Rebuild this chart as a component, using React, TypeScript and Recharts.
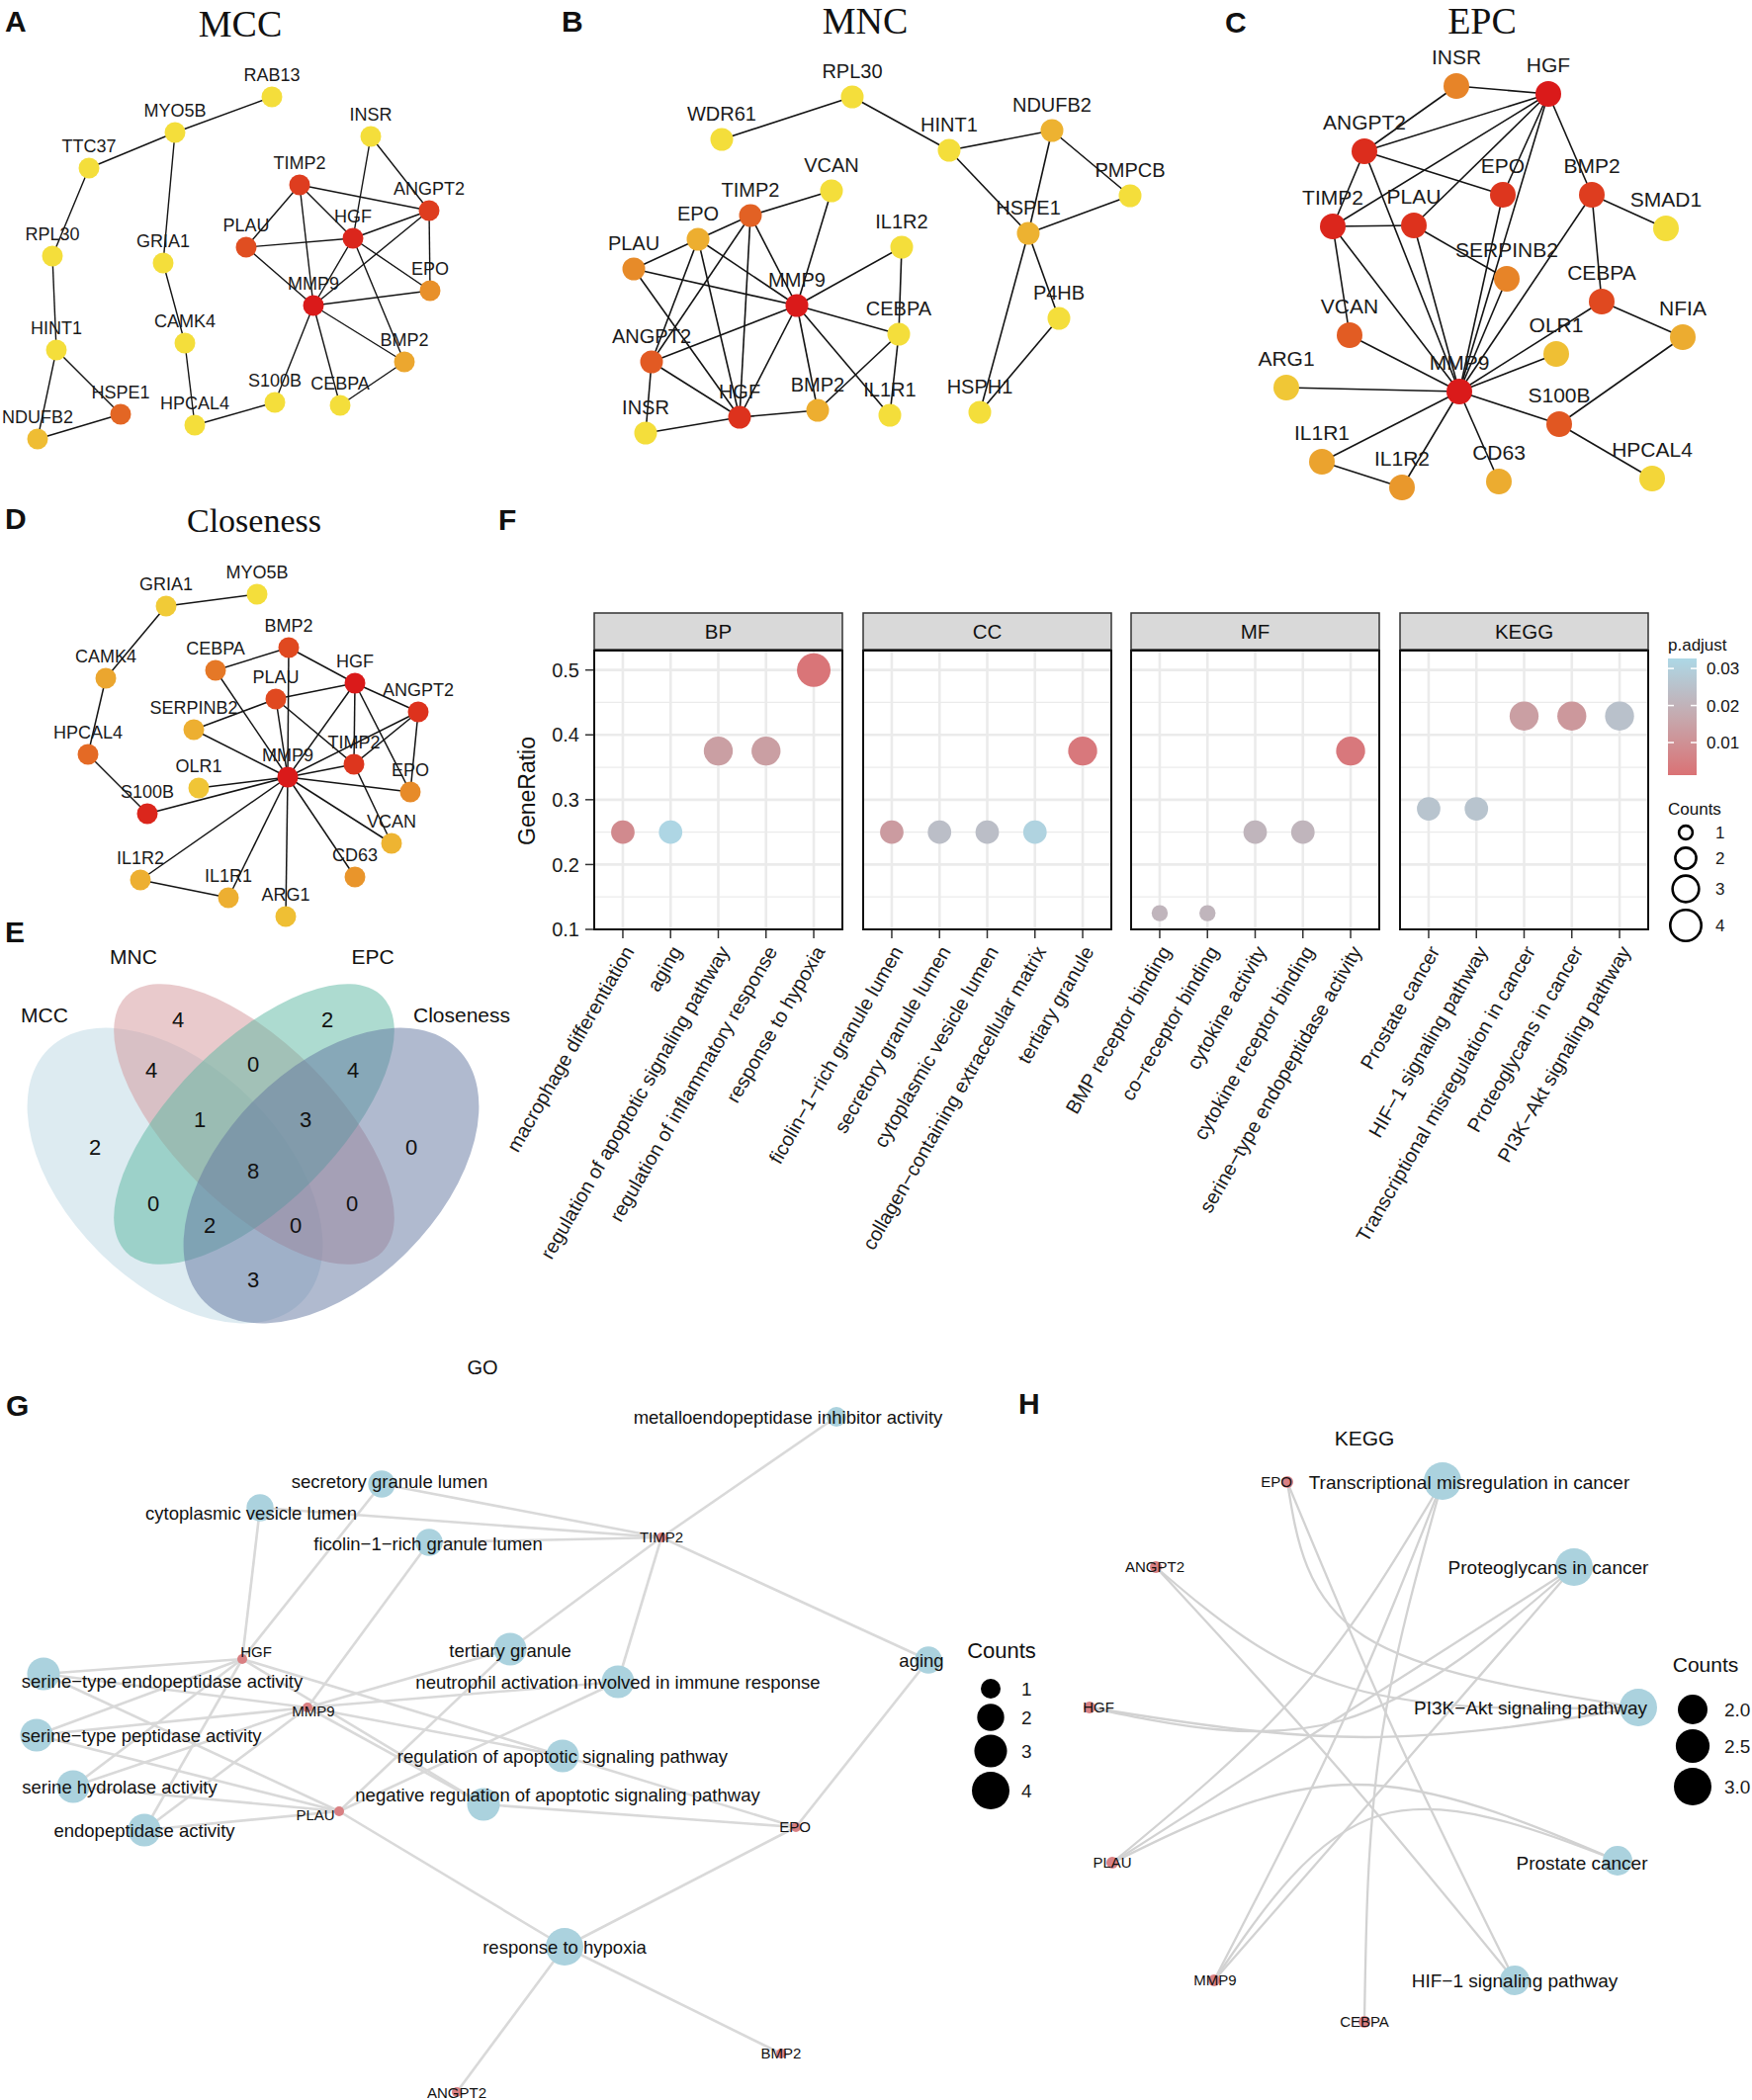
import React from "react";
import { ScatterChart, Scatter, XAxis, YAxis, ZAxis, CartesianGrid } from "recharts";

const SANS = "'Liberation Sans', Arial, Helvetica, sans-serif";
const SERIF = "'Liberation Serif', 'Times New Roman', serif";
const INK = "#1a1a1a";
const ZERO = { top: 0, right: 0, bottom: 0, left: 0 };

// ---------- A: MCC network (x, y; score = node colour rank)
const mccNodes = [
  { id: "RAB13", x: 275, y: 98, score: 0 },
  { id: "MYO5B", x: 177, y: 134, score: 0 },
  { id: "TTC37", x: 90, y: 170, score: 0 },
  { id: "RPL30", x: 53, y: 259, score: 0 },
  { id: "GRIA1", x: 165, y: 266, score: 0 },
  { id: "HINT1", x: 57, y: 354, score: 0 },
  { id: "CAMK4", x: 187, y: 347, score: 0 },
  { id: "HSPE1", x: 122, y: 419, score: 0.68 },
  { id: "NDUFB2", x: 38, y: 444, score: 0.21 },
  { id: "HPCAL4", x: 197, y: 430, score: 0 },
  { id: "S100B", x: 278, y: 407, score: 0 },
  { id: "CEBPA", x: 344, y: 410, score: 0 },
  { id: "BMP2", x: 409, y: 366, score: 0.35 },
  { id: "MMP9", x: 317, y: 309, score: 1 },
  { id: "EPO", x: 435, y: 294, score: 0.5 },
  { id: "HGF", x: 357, y: 241, score: 0.95 },
  { id: "PLAU", x: 249, y: 250, score: 0.78 },
  { id: "TIMP2", x: 303, y: 187, score: 0.85 },
  { id: "ANGPT2", x: 434, y: 213, score: 0.85 },
  { id: "INSR", x: 375, y: 138, score: 0 },
];
const mccEdges = [
  ["RAB13", "MYO5B"], ["MYO5B", "TTC37"], ["MYO5B", "GRIA1"], ["TTC37", "RPL30"], ["RPL30", "HINT1"],
  ["HINT1", "NDUFB2"], ["HINT1", "HSPE1"], ["HSPE1", "NDUFB2"], ["GRIA1", "CAMK4"], ["CAMK4", "HPCAL4"],
  ["HPCAL4", "S100B"], ["S100B", "MMP9"], ["CEBPA", "MMP9"], ["CEBPA", "BMP2"], ["BMP2", "MMP9"],
  ["BMP2", "HGF"], ["MMP9", "EPO"], ["MMP9", "PLAU"], ["MMP9", "TIMP2"], ["MMP9", "HGF"],
  ["MMP9", "ANGPT2"], ["EPO", "ANGPT2"], ["EPO", "HGF"], ["HGF", "PLAU"], ["HGF", "TIMP2"],
  ["HGF", "ANGPT2"], ["HGF", "INSR"], ["INSR", "ANGPT2"], ["TIMP2", "ANGPT2"], ["TIMP2", "PLAU"],
];

// ---------- B: MNC network
const mncNodes = [
  { id: "RPL30", x: 862, y: 98, score: 0 },
  { id: "WDR61", x: 730, y: 141, score: 0 },
  { id: "HINT1", x: 960, y: 152, score: 0 },
  { id: "NDUFB2", x: 1064, y: 132, score: 0.28 },
  { id: "PMPCB", x: 1143, y: 198, score: 0 },
  { id: "HSPE1", x: 1040, y: 236, score: 0.28 },
  { id: "P4HB", x: 1071, y: 322, score: 0 },
  { id: "HSPH1", x: 991, y: 417, score: 0 },
  { id: "VCAN", x: 841, y: 193, score: 0 },
  { id: "TIMP2", x: 759, y: 218, score: 0.7 },
  { id: "EPO", x: 706, y: 242, score: 0.31 },
  { id: "PLAU", x: 641, y: 272, score: 0.52 },
  { id: "IL1R2", x: 912, y: 250, score: 0 },
  { id: "MMP9", x: 806, y: 309, score: 1 },
  { id: "CEBPA", x: 909, y: 338, score: 0 },
  { id: "ANGPT2", x: 659, y: 366, score: 0.73 },
  { id: "INSR", x: 653, y: 438, score: 0 },
  { id: "HGF", x: 748, y: 422, score: 0.9 },
  { id: "BMP2", x: 827, y: 415, score: 0.31 },
  { id: "IL1R1", x: 900, y: 420, score: 0 },
];
const mncEdges = [
  ["WDR61", "RPL30"], ["RPL30", "HINT1"], ["HINT1", "NDUFB2"], ["HINT1", "HSPE1"], ["NDUFB2", "HSPE1"],
  ["NDUFB2", "PMPCB"], ["PMPCB", "HSPE1"], ["HSPE1", "HSPH1"], ["HSPE1", "P4HB"], ["P4HB", "HSPH1"],
  ["VCAN", "TIMP2"], ["VCAN", "MMP9"], ["TIMP2", "EPO"], ["TIMP2", "MMP9"], ["TIMP2", "ANGPT2"],
  ["TIMP2", "HGF"], ["EPO", "PLAU"], ["EPO", "MMP9"], ["EPO", "ANGPT2"], ["EPO", "HGF"],
  ["PLAU", "MMP9"], ["PLAU", "HGF"], ["IL1R2", "MMP9"], ["IL1R2", "CEBPA"], ["CEBPA", "IL1R1"],
  ["MMP9", "CEBPA"], ["MMP9", "ANGPT2"], ["MMP9", "HGF"], ["MMP9", "BMP2"], ["MMP9", "IL1R1"],
  ["CEBPA", "BMP2"], ["ANGPT2", "INSR"], ["ANGPT2", "HGF"], ["INSR", "HGF"], ["HGF", "BMP2"],
];

// ---------- C: EPC network
const epcNodes = [
  { id: "INSR", x: 1473, y: 87, score: 0.55 },
  { id: "HGF", x: 1566, y: 95, score: 1 },
  { id: "ANGPT2", x: 1380, y: 153, score: 0.92 },
  { id: "EPO", x: 1520, y: 197, score: 0.88 },
  { id: "BMP2", x: 1610, y: 197, score: 0.85 },
  { id: "SMAD1", x: 1685, y: 231, score: 0 },
  { id: "TIMP2", x: 1348, y: 229, score: 0.95 },
  { id: "PLAU", x: 1430, y: 228, score: 0.9 },
  { id: "SERPINB2", x: 1524, y: 282, score: 0.55 },
  { id: "CEBPA", x: 1620, y: 305, score: 0.8 },
  { id: "NFIA", x: 1702, y: 341, score: 0.32 },
  { id: "VCAN", x: 1365, y: 339, score: 0.72 },
  { id: "OLR1", x: 1574, y: 358, score: 0.2 },
  { id: "ARG1", x: 1301, y: 392, score: 0.15 },
  { id: "MMP9", x: 1476, y: 396, score: 1 },
  { id: "S100B", x: 1577, y: 429, score: 0.74 },
  { id: "IL1R1", x: 1337, y: 467, score: 0.38 },
  { id: "IL1R2", x: 1418, y: 493, score: 0.45 },
  { id: "CD63", x: 1516, y: 487, score: 0.32 },
  { id: "HPCAL4", x: 1671, y: 484, score: 0.05 },
];
const epcEdges = [
  ["INSR", "HGF"], ["INSR", "ANGPT2"], ["HGF", "ANGPT2"], ["HGF", "TIMP2"], ["HGF", "PLAU"],
  ["HGF", "EPO"], ["HGF", "MMP9"], ["HGF", "BMP2"], ["ANGPT2", "TIMP2"], ["ANGPT2", "EPO"],
  ["ANGPT2", "MMP9"], ["TIMP2", "PLAU"], ["TIMP2", "VCAN"], ["TIMP2", "MMP9"], ["PLAU", "SERPINB2"],
  ["PLAU", "MMP9"], ["EPO", "MMP9"], ["SERPINB2", "MMP9"], ["BMP2", "SMAD1"], ["BMP2", "CEBPA"],
  ["BMP2", "MMP9"], ["CEBPA", "NFIA"], ["CEBPA", "MMP9"], ["NFIA", "S100B"], ["VCAN", "MMP9"],
  ["OLR1", "MMP9"], ["ARG1", "MMP9"], ["S100B", "MMP9"], ["S100B", "HPCAL4"], ["IL1R1", "MMP9"],
  ["IL1R1", "IL1R2"], ["IL1R2", "MMP9"], ["CD63", "MMP9"],
];

// ---------- D: Closeness network
const closeNodes = [
  { id: "MYO5B", x: 260, y: 601, score: 0 },
  { id: "GRIA1", x: 168, y: 613, score: 0.12 },
  { id: "BMP2", x: 292, y: 655, score: 0.8 },
  { id: "CEBPA", x: 218, y: 678, score: 0.6 },
  { id: "HGF", x: 359, y: 691, score: 1 },
  { id: "CAMK4", x: 107, y: 686, score: 0.36 },
  { id: "PLAU", x: 279, y: 707, score: 0.8 },
  { id: "ANGPT2", x: 423, y: 720, score: 0.9 },
  { id: "SERPINB2", x: 196, y: 738, score: 0.3 },
  { id: "HPCAL4", x: 89, y: 763, score: 0.66 },
  { id: "TIMP2", x: 358, y: 773, score: 0.88 },
  { id: "MMP9", x: 291, y: 786, score: 1 },
  { id: "OLR1", x: 201, y: 797, score: 0.16 },
  { id: "EPO", x: 415, y: 801, score: 0.52 },
  { id: "S100B", x: 149, y: 823, score: 0.95 },
  { id: "VCAN", x: 396, y: 853, score: 0.27 },
  { id: "CD63", x: 359, y: 887, score: 0.47 },
  { id: "IL1R2", x: 142, y: 890, score: 0.3 },
  { id: "IL1R1", x: 231, y: 908, score: 0.3 },
  { id: "ARG1", x: 289, y: 927, score: 0.2 },
];
const closeEdges = [
  ["MYO5B", "GRIA1"], ["GRIA1", "CAMK4"], ["CAMK4", "HPCAL4"], ["HPCAL4", "S100B"], ["S100B", "MMP9"],
  ["BMP2", "CEBPA"], ["BMP2", "HGF"], ["BMP2", "MMP9"], ["CEBPA", "MMP9"], ["PLAU", "HGF"],
  ["PLAU", "SERPINB2"], ["PLAU", "MMP9"], ["PLAU", "TIMP2"], ["HGF", "ANGPT2"], ["HGF", "TIMP2"],
  ["HGF", "MMP9"], ["HGF", "EPO"], ["ANGPT2", "TIMP2"], ["ANGPT2", "MMP9"], ["ANGPT2", "EPO"],
  ["SERPINB2", "MMP9"], ["TIMP2", "MMP9"], ["TIMP2", "VCAN"], ["OLR1", "MMP9"], ["EPO", "MMP9"],
  ["VCAN", "MMP9"], ["CD63", "MMP9"], ["IL1R2", "MMP9"], ["IL1R2", "IL1R1"], ["IL1R1", "MMP9"],
  ["ARG1", "MMP9"],
];

// ---------- E: Venn
const vennSets = ["MCC", "MNC", "EPC", "Closeness"];
const vennFill = ["#BBD7E3", "#D39599", "#5BB7A1", "#61759F"];
const vennEllipses = [
  { x: 177, y: 1189, rx: 181, ry: 109, rot: 45 },
  { x: 257, y: 1137, rx: 183, ry: 82, rot: 45 },
  { x: 257, y: 1137, rx: 183, ry: 82, rot: -45 },
  { x: 335, y: 1189, rx: 181, ry: 109, rot: -45 },
];
const vennCounts = [
  { n: 4, x: 180, y: 1031 }, { n: 2, x: 331, y: 1031 }, { n: 4, x: 153, y: 1082 },
  { n: 0, x: 256, y: 1076 }, { n: 4, x: 357, y: 1082 }, { n: 1, x: 202, y: 1132 },
  { n: 3, x: 309, y: 1132 }, { n: 2, x: 96, y: 1160 }, { n: 0, x: 416, y: 1160 },
  { n: 8, x: 256, y: 1184 }, { n: 0, x: 155, y: 1217 }, { n: 0, x: 356, y: 1217 },
  { n: 2, x: 212, y: 1239 }, { n: 0, x: 299, y: 1239 }, { n: 3, x: 256, y: 1294 },
];

// ---------- F: enrichment dot plot
const bpTerms = ["macrophage differentiation", "aging", "regulation of apoptotic signaling pathway", "regulation of inflammatory response", "response to hypoxia"];
const bpRatio = [0.25, 0.25, 0.375, 0.375, 0.5];
const bpCount = [2, 2, 3, 3, 4];
const bpPadj = [0.008, 0.032, 0.014, 0.014, 0.002];

const ccTerms = ["ficolin−1−rich granule lumen", "secretory granule lumen", "cytoplasmic vesicle lumen", "collagen−containing extracellular matrix", "tertiary granule"];
const ccRatio = [0.25, 0.25, 0.25, 0.25, 0.375];
const ccCount = [2, 2, 2, 2, 3];
const ccPadj = [0.013, 0.024, 0.024, 0.031, 0.003];

const mfTerms = ["BMP receptor binding", "co−receptor binding", "cytokine activity", "cytokine receptor binding", "serine−type endopeptidase activity"];
const mfRatio = [0.125, 0.125, 0.25, 0.25, 0.375];
const mfCount = [1, 1, 2, 2, 3];
const mfPadj = [0.021, 0.021, 0.021, 0.021, 0.003];

const keggTerms = ["Prostate cancer", "HIF−1 signaling pathway", "Transcriptional misregulation in cancer", "Proteoglycans in cancer", "PI3K−Akt signaling pathway"];
const keggRatio = [0.286, 0.286, 0.429, 0.429, 0.429];
const keggCount = [2, 2, 3, 3, 3];
const keggPadj = [0.026, 0.026, 0.014, 0.012, 0.025];

const ratioTicks = [0.1, 0.2, 0.3, 0.4, 0.5];
const ratioMinor = [0.15, 0.25, 0.35, 0.45];
const padjTicks = [0.01, 0.02, 0.03];
const padjDomain = [0.0012, 0.0327];
const countKeys = [1, 2, 3, 4];

// ---------- G: GO cnet
const goTerms = [
  { id: "mia", x: 846, y: 1433, count: 1 },
  { id: "sgl", x: 386, y: 1501, count: 2 },
  { id: "cvl", x: 263, y: 1525, count: 2 },
  { id: "fgl", x: 434, y: 1560, count: 2 },
  { id: "tg", x: 516, y: 1668, count: 3 },
  { id: "na", x: 625, y: 1701, count: 3 },
  { id: "ag", x: 939, y: 1679, count: 2 },
  { id: "sea", x: 44, y: 1693, count: 3 },
  { id: "spa", x: 37, y: 1755, count: 3 },
  { id: "sha", x: 74, y: 1807, count: 3 },
  { id: "ea", x: 146, y: 1851, count: 3 },
  { id: "ras", x: 569, y: 1776, count: 3 },
  { id: "nras", x: 489, y: 1825, count: 3 },
  { id: "rth", x: 571, y: 1969, count: 4 },
];
const goGenes = [
  { id: "TIMP2", x: 669, y: 1555 }, { id: "HGF", x: 245, y: 1678 }, { id: "MMP9", x: 311, y: 1727 },
  { id: "PLAU", x: 343, y: 1832 }, { id: "EPO", x: 805, y: 1848 }, { id: "BMP2", x: 790, y: 2077 },
  { id: "ANGPT2", x: 462, y: 2116 },
];
const goTermLabels = [
  { text: "metalloendopeptidase inhibitor activity", x: 797, y: 1434 },
  { text: "secretory granule lumen", x: 394, y: 1499 },
  { text: "cytoplasmic vesicle lumen", x: 254, y: 1531 },
  { text: "ficolin−1−rich granule lumen", x: 433, y: 1562 },
  { text: "tertiary granule", x: 516, y: 1670 },
  { text: "neutrophil activation involved in immune response", x: 625, y: 1702 },
  { text: "aging", x: 932, y: 1680 },
  { text: "serine−type endopeptidase activity", x: 164, y: 1701 },
  { text: "serine−type peptidase activity", x: 143, y: 1756 },
  { text: "serine hydrolase activity", x: 121, y: 1808 },
  { text: "endopeptidase activity", x: 146, y: 1852 },
  { text: "regulation of apoptotic signaling pathway", x: 569, y: 1777 },
  { text: "negative regulation of apoptotic signaling pathway", x: 564, y: 1816 },
  { text: "response to hypoxia", x: 571, y: 1970 },
];
const goGeneLabels = [
  { text: "TIMP2", x: 669, y: 1555 }, { text: "HGF", x: 259, y: 1671 }, { text: "MMP9", x: 317, y: 1731 },
  { text: "PLAU", x: 319, y: 1836 }, { text: "EPO", x: 804, y: 1848 }, { text: "BMP2", x: 790, y: 2077 },
  { text: "ANGPT2", x: 462, y: 2117 },
];
const goLinks = [
  ["TIMP2", "mia"], ["TIMP2", "sgl"], ["TIMP2", "cvl"], ["TIMP2", "fgl"], ["TIMP2", "tg"], ["TIMP2", "na"], ["TIMP2", "ag"],
  ["HGF", "sgl"], ["HGF", "cvl"], ["HGF", "sea"], ["HGF", "spa"], ["HGF", "sha"], ["HGF", "ea"], ["HGF", "ras"], ["HGF", "nras"],
  ["MMP9", "fgl"], ["MMP9", "tg"], ["MMP9", "na"], ["MMP9", "sea"], ["MMP9", "spa"], ["MMP9", "sha"], ["MMP9", "ea"], ["MMP9", "ras"], ["MMP9", "nras"],
  ["PLAU", "sea"], ["PLAU", "spa"], ["PLAU", "sha"], ["PLAU", "ea"], ["PLAU", "tg"], ["PLAU", "na"], ["PLAU", "rth"],
  ["EPO", "ag"], ["EPO", "ras"], ["EPO", "nras"], ["EPO", "rth"], ["BMP2", "rth"], ["ANGPT2", "rth"],
];

// ---------- H: KEGG cnet
const keggGenes = [
  { id: "EPO", x: 1302, y: 1499 }, { id: "ANGPT2", x: 1169, y: 1585 }, { id: "HGF", x: 1102, y: 1727 },
  { id: "PLAU", x: 1125, y: 1884 }, { id: "MMP9", x: 1228, y: 2003 }, { id: "CEBPA", x: 1380, y: 2045 },
];
const keggPaths = [
  { id: "tm", x: 1459, y: 1498, count: 3 }, { id: "pc", x: 1592, y: 1585, count: 3 },
  { id: "pi3k", x: 1657, y: 1727, count: 3 }, { id: "pca", x: 1636, y: 1882, count: 2 },
  { id: "hif", x: 1532, y: 2003, count: 2 },
];
const keggLabels = [
  { text: "Transcriptional misregulation in cancer", x: 1486, y: 1499 },
  { text: "Proteoglycans in cancer", x: 1566, y: 1585 },
  { text: "PI3K−Akt signaling pathway", x: 1548, y: 1727 },
  { text: "Prostate cancer", x: 1600, y: 1884 },
  { text: "HIF−1 signaling pathway", x: 1532, y: 2003 },
];
const keggGeneLabels = [
  { text: "EPO", x: 1291, y: 1499 }, { text: "ANGPT2", x: 1168, y: 1585 }, { text: "HGF", x: 1111, y: 1727 },
  { text: "PLAU", x: 1125, y: 1884 }, { text: "MMP9", x: 1229, y: 2003 }, { text: "CEBPA", x: 1380, y: 2045 },
];
// gene, pathway, and a point the arc passes through
const keggLinks = [
  ["EPO", "pi3k", 1380, 1655], ["EPO", "hif", 1410, 1751], ["ANGPT2", "pi3k", 1365, 1707],
  ["ANGPT2", "hif", 1353, 1788], ["HGF", "pi3k", 1381, 1757], ["HGF", "pc", 1357, 1740],
  ["PLAU", "pc", 1359, 1734], ["PLAU", "tm", 1317, 1707], ["PLAU", "pca", 1369, 1805],
  ["MMP9", "tm", 1357, 1744], ["MMP9", "pc", 1416, 1788], ["MMP9", "pca", 1396, 1836],
  ["CEBPA", "tm", 1396, 1766],
] as [string, string, number, number][];
const keggKeys = [2.0, 2.5, 3.0];

// ---------- colour helpers
function rgb(h: string) {
  return [1, 3, 5].map((i) => parseInt(h.slice(i, i + 2), 16));
}
function ramp(stops: [number, string][], t: number) {
  const u = Math.max(0, Math.min(1, t));
  for (let i = 1; i < stops.length; i++) {
    if (u <= stops[i][0]) {
      const [t0, c0] = stops[i - 1];
      const [t1, c1] = stops[i];
      const k = (u - t0) / (t1 - t0);
      const a = rgb(c0);
      const b = rgb(c1);
      return `rgb(${a.map((v, j) => Math.round(v + (b[j] - v) * k)).join(",")})`;
    }
  }
  return stops[stops.length - 1][1];
}
const heatStops: [number, string][] = [[0, "#F4DE3B"], [0.5, "#E8902A"], [1, "#DA1A1A"]];
const padjStops: [number, string][] = [[0, "#DA7275"], [0.5, "#C6A9AE"], [1, "#ADD8E6"]];
const heat = (s: number) => ramp(heatStops, s);
const padjColor = (p: number) => ramp(padjStops, (p - padjDomain[0]) / (padjDomain[1] - padjDomain[0]));

const Empty = () => <g />;
const TERM_FILL = "#ABD2DE";
const GENE_FILL = "#D98083";

function Frame({ box, children }: { box: number[]; children: React.ReactNode }) {
  const [left, top, width, height] = box;
  return (
    <div style={{ position: "absolute", left, top }}>
      <ScatterChart width={width} height={height} margin={ZERO}>
        <XAxis type="number" dataKey="x" domain={[left, left + width]} hide allowDataOverflow />
        <YAxis type="number" dataKey="y" domain={[top, top + height]} reversed hide allowDataOverflow />
        {children}
      </ScatterChart>
    </div>
  );
}

function network(nodes: any[], edges: string[][], r: number, font: number, lift: number, sw: number) {
  const byId: Record<string, any> = {};
  nodes.forEach((n) => (byId[n.id] = n));
  return [
    ...edges.map(([a, b]) => (
      <Scatter key={`e-${a}-${b}`} data={[byId[a], byId[b]]} line={{ stroke: "#141414", strokeWidth: sw }} shape={Empty} isAnimationActive={false} />
    )),
    <Scatter key="nodes" data={nodes} isAnimationActive={false}
      shape={(p: any) => <circle cx={p.cx} cy={p.cy} r={r} fill={heat(p.payload.score)} />} />,
    <Scatter key="labels" data={nodes} isAnimationActive={false}
      shape={(p: any) => (
        <text x={p.cx} y={p.cy - lift} textAnchor="middle" fontSize={font} fontFamily={SANS} fill={INK}>{p.payload.id}</text>
      )} />,
  ];
}

const rotTick = (terms: string[]) => (p: any) => {
  const tx = p.x + 12;
  const ty = p.y + 11;
  return (
    <text x={tx} y={ty} transform={`rotate(-60 ${tx} ${ty})`} textAnchor="end" fontSize={20} fontFamily={SANS} fill={INK}>
      {terms[Math.round(p.payload.value) - 1]}
    </text>
  );
};

function Facet({ left, terms, ratio, count, padj, showY }: any) {
  const data = terms.map((_: string, i: number) => ({ x: i + 1, ratio: ratio[i], count: count[i], padj: padj[i] }));
  const yw = showY ? 86 : 0;
  return (
    <div style={{ position: "absolute", left: left - 160, top: 658 }}>
      <ScatterChart width={431} height={642} margin={{ top: 0, right: 20, bottom: 0, left: 160 - yw }}>
        <CartesianGrid horizontalValues={ratioMinor} vertical={false} stroke="#EBEBEB" strokeWidth={1.3} />
        <CartesianGrid horizontalValues={ratioTicks} verticalValues={[1, 2, 3, 4, 5]} stroke="#EBEBEB" strokeWidth={2.6} />
        <XAxis type="number" dataKey="x" domain={[0.4, 5.6]} ticks={[1, 2, 3, 4, 5]} interval={0} height={360}
          tickSize={9} axisLine={false} tickLine={{ stroke: "#333", strokeWidth: 1.5 }} tick={rotTick(terms)} allowDataOverflow />
        <YAxis type="number" dataKey="ratio" domain={[0.1, 0.53]} ticks={ratioTicks} width={86} hide={!showY}
          tickSize={9} tickMargin={6} axisLine={false} tickLine={{ stroke: "#333", strokeWidth: 1.5 }}
          tickFormatter={(v: number) => v.toFixed(1)} tick={{ fontSize: 20, fill: INK, fontFamily: SANS }} allowDataOverflow />
        <ZAxis type="number" dataKey="count" domain={[1, 4]} range={[211, 908]} />
        <Scatter data={data} isAnimationActive={false}
          shape={(p: any) => <circle cx={p.cx} cy={p.cy} r={Math.sqrt(p.size / Math.PI)} fill={padjColor(p.payload.padj)} />} />
      </ScatterChart>
    </div>
  );
}

// size legend: keys stacked at the given key centres (legend layout), circle at `dot` px from the left
function SizeKey({ left, width, ys, dot, keys, zDomain, zRange, ring, labelDx, font, fmt }: any) {
  const top = ys[0] - 30;
  const height = ys[ys.length - 1] + 30 - top;
  const data = keys.map((k: number, i: number) => ({ x: left + dot, y: ys[i], count: k }));
  return (
    <Frame box={[left, top, width, height]}>
      <ZAxis type="number" dataKey="count" domain={zDomain} range={zRange} />
      <Scatter data={data} isAnimationActive={false}
        shape={(p: any) => {
          const r = Math.sqrt(p.size / Math.PI);
          return (
            <g>
              {ring ? <circle cx={p.cx} cy={p.cy} r={r - 1.3} fill="#fff" stroke="#000" strokeWidth={2.6} />
                : <circle cx={p.cx} cy={p.cy} r={r} fill="#000" />}
              <text x={p.cx + labelDx} y={p.cy} dy="0.35em" textAnchor="start" fontSize={font} fontFamily={SANS} fill={INK}>{fmt(p.payload.count)}</text>
            </g>
          );
        }} />
    </Frame>
  );
}

function cnet(terms: any[], genes: any[], links: any[], termLabels: any[], geneLabels: any[], zDomain: number[], zRange: number[], curved: boolean) {
  const byId: Record<string, any> = {};
  [...terms, ...genes].forEach((n) => (byId[n.id] = n));
  const edgeColor = curved ? "#D2D2D2" : "#D9D9D9";
  return [
    <ZAxis key="z" type="number" dataKey="count" domain={zDomain} range={zRange} />,
    ...links.map((l: any, i: number) => {
      const pts = curved ? [byId[l[0]], { x: l[2], y: l[3] }, byId[l[1]]] : [byId[l[0]], byId[l[1]]];
      return (
        <Scatter key={`l${i}`} data={pts} line={{ stroke: edgeColor, strokeWidth: curved ? 2.3 : 2.6 }}
          lineJointType={curved ? "natural" : "linear"} shape={Empty} isAnimationActive={false} />
      );
    }),
    <Scatter key="terms" data={terms} isAnimationActive={false}
      shape={(p: any) => <circle cx={p.cx} cy={p.cy} r={Math.sqrt(p.size / Math.PI)} fill={TERM_FILL} />} />,
    <Scatter key="genes" data={genes} isAnimationActive={false}
      shape={(p: any) => <circle cx={p.cx} cy={p.cy} r={curved ? 6 : 5} fill={GENE_FILL} />} />,
    <Scatter key="tl" data={termLabels} isAnimationActive={false}
      shape={(p: any) => (
        <text x={p.cx} y={p.cy} dy="0.35em" textAnchor="middle" fontSize={curved ? 19 : 18.5} fontFamily={SANS} fill="#111">{p.payload.text}</text>
      )} />,
    <Scatter key="gl" data={geneLabels} isAnimationActive={false}
      shape={(p: any) => (
        <text x={p.cx} y={p.cy} dy="0.35em" textAnchor="middle" fontSize={15} fontFamily={SANS} fill="#111">{p.payload.text}</text>
      )} />,
  ];
}

function Txt({ x, y, size, children, weight = 400, anchor = "start", family = SANS, mid = false, rot = 0 }: any) {
  return (
    <text x={x} y={y} fontSize={size} fontWeight={weight} textAnchor={anchor} fontFamily={family} fill="#111"
      dy={mid ? "0.35em" : undefined} transform={rot ? `rotate(${rot} ${x} ${y})` : undefined}>
      {children}
    </text>
  );
}

const facetLefts = [601, 873, 1144, 1416];
const facetNames = ["BP", "CC", "MF", "KEGG"];
const FW = 251;

export default function App() {
  const barTop = 666;
  const barH = 118;
  const padjY = (p: number) => barTop + barH - ((p - padjDomain[0]) / (padjDomain[1] - padjDomain[0])) * barH;
  return (
    <div style={{ position: "absolute", left: 0, top: 0, width: 1772, height: 2124, background: "#fff", overflow: "hidden" }}>
      <Frame box={[0, 0, 520, 470]}>{network(mccNodes, mccEdges, 10.5, 18, 16, 1.4)}</Frame>
      <Frame box={[560, 0, 640, 460]}>{network(mncNodes, mncEdges, 11.5, 20, 19, 1.6)}</Frame>
      <Frame box={[1205, 0, 567, 515]}>{network(epcNodes, epcEdges, 13, 21, 22, 1.6)}</Frame>
      <Frame box={[0, 490, 500, 450]}>{network(closeNodes, closeEdges, 10.5, 18, 16, 1.5)}</Frame>

      <Frame box={[0, 920, 515, 420]}>
        {vennEllipses.map((e, i) => (
          <Scatter key={vennSets[i]} data={[e]} isAnimationActive={false}
            shape={(p: any) => (
              <ellipse cx={p.cx} cy={p.cy} rx={e.rx} ry={e.ry} transform={`rotate(${e.rot} ${p.cx} ${p.cy})`} fill={vennFill[i]} fillOpacity={0.5} />
            )} />
        ))}
        <Scatter data={vennCounts} isAnimationActive={false}
          shape={(p: any) => (
            <text x={p.cx} y={p.cy} dy="0.35em" textAnchor="middle" fontSize={22} fontFamily={SANS} fill="#111">{p.payload.n}</text>
          )} />
      </Frame>

      <Facet left={facetLefts[0]} terms={bpTerms} ratio={bpRatio} count={bpCount} padj={bpPadj} showY />
      <Facet left={facetLefts[1]} terms={ccTerms} ratio={ccRatio} count={ccCount} padj={ccPadj} />
      <Facet left={facetLefts[2]} terms={mfTerms} ratio={mfRatio} count={mfCount} padj={mfPadj} />
      <Facet left={facetLefts[3]} terms={keggTerms} ratio={keggRatio} count={keggCount} padj={keggPadj} />
      <SizeKey left={1680} width={92} dot={25} ys={[842, 868, 899, 936]} keys={countKeys} zDomain={[1, 4]} zRange={[211, 908]}
        ring labelDx={30} font={17} fmt={(v: number) => String(v)} />

      <Frame box={[0, 1360, 1010, 764]}>
        {cnet(goTerms, goGenes, goLinks, goTermLabels, goGeneLabels, [1, 4], [314, 1134], false)}
      </Frame>
      <SizeKey left={977} width={90} dot={25} ys={[1708, 1737, 1771, 1811]} keys={countKeys} zDomain={[1, 4]} zRange={[314, 1134]}
        labelDx={31} font={19} fmt={(v: number) => String(v)} />

      <Frame box={[1020, 1380, 752, 744]}>
        {cnet(keggPaths, keggGenes, keggLinks, keggLabels, keggGeneLabels, [2, 3], [707, 1134], true)}
      </Frame>
      <SizeKey left={1687} width={85} dot={25} ys={[1729, 1766, 1807]} keys={keggKeys} zDomain={[2, 3]} zRange={[707, 1134]}
        labelDx={32} font={19} fmt={(v: number) => v.toFixed(1)} />

      <svg width={1772} height={2124} style={{ position: "absolute", left: 0, top: 0, pointerEvents: "none" }}>
        <defs>
          <linearGradient id="padjGrad" x1="0" y1="1" x2="0" y2="0">
            {padjStops.map(([o, c]) => <stop key={o} offset={o} stopColor={c} />)}
          </linearGradient>
        </defs>
        {[["A", 5, 32], ["B", 568, 32], ["C", 1239, 33], ["D", 5, 535], ["E", 5, 953], ["F", 504, 536], ["G", 6, 1432], ["H", 1030, 1430]].map(
          ([l, x, y]) => <Txt key={l as string} x={x} y={y} size={30} weight={700}>{l}</Txt>
        )}
        <Txt x={243} y={37} size={38} anchor="middle" family={SERIF}>MCC</Txt>
        <Txt x={875} y={34} size={38} anchor="middle" family={SERIF}>MNC</Txt>
        <Txt x={1499} y={34} size={38} anchor="middle" family={SERIF}>EPC</Txt>
        <Txt x={257} y={538} size={34} anchor="middle" family={SERIF}>Closeness</Txt>

        <Txt x={135} y={968} size={21} anchor="middle" mid>{vennSets[1]}</Txt>
        <Txt x={377} y={968} size={21} anchor="middle" mid>{vennSets[2]}</Txt>
        <Txt x={45} y={1027} size={21} anchor="middle" mid>{vennSets[0]}</Txt>
        <Txt x={467} y={1027} size={21} anchor="middle" mid>{vennSets[3]}</Txt>

        {facetLefts.map((l, i) => (
          <g key={facetNames[i]}>
            <rect x={l} y={620} width={FW} height={37} fill="#D9D9D9" stroke="#333" strokeWidth={1.5} />
            <Txt x={l + FW / 2} y={639} size={20.5} anchor="middle" mid>{facetNames[i]}</Txt>
            <rect x={l} y={658} width={FW} height={282} fill="none" stroke="#111" strokeWidth={2} />
          </g>
        ))}
        <Txt x={533} y={800} size={23} anchor="middle" mid rot={-90}>GeneRatio</Txt>

        <Txt x={1687} y={652} size={17} mid>p.adjust</Txt>
        <rect x={1687} y={barTop} width={29} height={barH} fill="url(#padjGrad)" />
        {padjTicks.map((p) => (
          <g key={p}>
            <line x1={1687} x2={1693} y1={padjY(p)} y2={padjY(p)} stroke="#fff" strokeWidth={1.5} />
            <line x1={1710} x2={1716} y1={padjY(p)} y2={padjY(p)} stroke="#fff" strokeWidth={1.5} />
            <Txt x={1726} y={padjY(p)} size={17} mid>{p.toFixed(2)}</Txt>
          </g>
        ))}
        <Txt x={1687} y={818} size={17} mid>Counts</Txt>

        <Txt x={488} y={1383} size={20} anchor="middle" mid>GO</Txt>
        <Txt x={1013} y={1669} size={22} anchor="middle" mid>Counts</Txt>
        <Txt x={1380} y={1455} size={21} anchor="middle" mid>KEGG</Txt>
        <Txt x={1725} y={1684} size={21} anchor="middle" mid>Counts</Txt>
      </svg>
    </div>
  );
}
